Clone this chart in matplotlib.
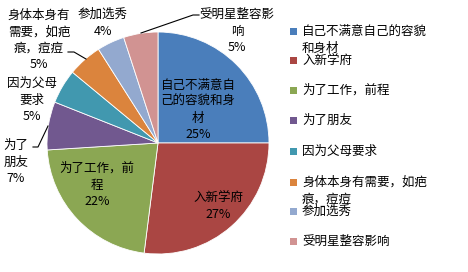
import matplotlib
matplotlib.use("Agg")
import matplotlib.pyplot as plt
from matplotlib.patches import Rectangle

plt.rcParams['font.family'] = ['Noto Sans CJK SC', 'DejaVu Sans']

# data
categories = ['自己不满意自己的容貌和身材', '入新学府', '为了工作，前程', '为了朋友',
              '因为父母要求', '身体本身有需要，如疤痕，痘痘', '参加选秀', '受明星整容影响']
shares = [25, 27, 22, 7, 5, 5, 4, 5]
pie_labels = ['自己不满意自\n己的容貌和身\n材', '入新学府', '为了工作，前\n程', '为了\n朋友',
              '因为父母\n要求', '身体本身有\n需要，如疤\n痕，痘痘', '参加选秀', '受明星整容影\n响']
legend_labels = ['自己不满意自己的容貌\n和身材', '入新学府', '为了工作，前程', '为了朋友',
                 '因为父母要求', '身体本身有需要，如疤\n痕，痘痘', '参加选秀', '受明星整容影响']
colors = ['#4A7EBB', '#AA4643', '#8BA753', '#71588F', '#4198AF', '#DB843D', '#93A9CF', '#D19392']

W, H = 468, 272
fig = plt.figure(figsize=(W / 100, H / 100), dpi=100)
ax = fig.add_axes([0, 0, 1, 1])

cx, cy, r = 158, H - 143, 111
wedges, _ = ax.pie(shares, colors=colors, startangle=90, counterclock=False,
                   center=(cx, cy), radius=r, frame=True,
                   wedgeprops=dict(edgecolor='white', linewidth=0.6))
ax.set_xlim(0, W)
ax.set_ylim(0, H)
ax.set_aspect('equal')
ax.axis('off')

# data label positions (pixel coords, y from top)
label_pos = [(198, 110), (218, 206), (97, 185), (16, 162),
             (32, 100), (39, 40), (103, 23), (237, 31)]
for lab, val, (x, y) in zip(pie_labels, shares, label_pos):
    ax.text(x, H - y, f'{lab}\n{val}%', ha='center', va='center', fontsize=9,
            linespacing=1.35, color='black')

# leader lines
leaders = [
    [(33, 147), (38, 147), (48, 126)],
    [(68, 52), (74, 52), (86, 59)],
    [(141, 33), (193, 15), (199, 15)],
]
for pts in leaders:
    xs = [p[0] for p in pts]
    ys = [H - p[1] for p in pts]
    ax.plot(xs, ys, color='black', linewidth=0.8)

# legend
ys_leg = [31, 60, 90, 120, 151, 182, 211, 241]
for lab, col, y in zip(legend_labels, colors, ys_leg):
    ax.add_patch(Rectangle((290, H - y - 3.5), 7, 7, facecolor=col, edgecolor='none'))
    first, *rest = lab.split('\n')
    ax.text(302, H - y, first, ha='left', va='center', fontsize=9)
    for i, extra in enumerate(rest):
        ax.text(302, H - y - 17 * (i + 1), extra, ha='left', va='center', fontsize=9)

fig.savefig('out.png', dpi=100)
